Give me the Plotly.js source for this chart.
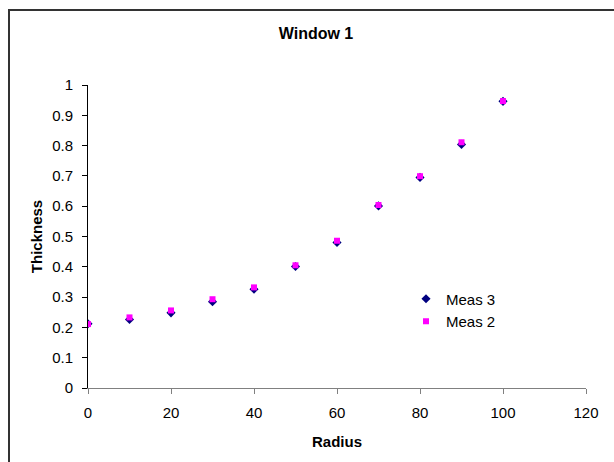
<!DOCTYPE html>
<html>
<head>
<meta charset="utf-8">
<script src="https://cdn.plot.ly/plotly-3.0.1.min.js"></script>
<style>
  html, body { margin: 0; padding: 0; background: #fff; }
  #chart { width: 614px; height: 462px; }
</style>
</head>
<body>
<div id="chart"></div>
<script>
// Radius positions and thickness measurements
const radius = [0, 10, 20, 30, 40, 50, 60, 70, 80, 90, 100];
const meas3 = [0.212, 0.226, 0.248, 0.285, 0.326, 0.401, 0.480, 0.601, 0.695, 0.804, 0.946];
const meas2 = [0.211, 0.233, 0.256, 0.293, 0.332, 0.405, 0.486, 0.604, 0.699, 0.811, 0.947];
const xTicks = [0, 20, 40, 60, 80, 100, 120];
const yTicks = [0, 0.1, 0.2, 0.3, 0.4, 0.5, 0.6, 0.7, 0.8, 0.9, 1];

const font = 'Arial, "Liberation Sans", sans-serif';

const traces = [
  {
    x: radius, y: meas3, name: 'Meas 3', type: 'scatter', mode: 'markers',
    marker: { symbol: 'diamond', size: 7, color: '#000080' }
  },
  {
    x: radius, y: meas2, name: 'Meas 2', type: 'scatter', mode: 'markers',
    marker: { symbol: 'square', size: 6, color: '#FF00FF' }
  }
];

const layout = {
  width: 614, height: 462,
  margin: { l: 88, r: 28, t: 85, b: 74 },
  paper_bgcolor: '#fff', plot_bgcolor: '#fff',
  font: { family: font, size: 15, color: '#000' },
  title: {
    text: '<b>Window 1</b>',
    font: { family: font, size: 16, color: '#000' },
    xref: 'container', yref: 'container',
    x: 316 / 614, y: 1 - 33 / 462, xanchor: 'center', yanchor: 'middle'
  },
  xaxis: {
    range: [0, 120], tickvals: xTicks, ticktext: xTicks.map(String),
    showgrid: false, zeroline: false,
    showline: true, linecolor: '#808080', linewidth: 1,
    ticks: 'outside', ticklen: 5, tickcolor: '#808080',
    ticklabelstandoff: 6,
    tickfont: { family: font, size: 15 },
    title: { text: '<b>Radius</b>', font: { family: font, size: 15 }, standoff: 16 }
  },
  yaxis: {
    range: [0, 1], tickvals: yTicks, ticktext: yTicks.map(String),
    showgrid: false, zeroline: false,
    showline: true, linecolor: '#000', linewidth: 1,
    ticks: 'outside', ticklen: 5, tickcolor: '#000',
    ticklabelstandoff: 6,
    tickfont: { family: font, size: 15 },
    title: { text: '<b>Thickness</b>', font: { family: font, size: 15 }, standoff: 5 }
  },
  legend: {
    x: (406 - 88) / 498, y: (388 - 310) / 303, xanchor: 'left', yanchor: 'middle',
    bgcolor: 'rgba(0,0,0,0)', borderwidth: 0,
    font: { family: font, size: 15 }, tracegroupgap: 0
  },
  shapes: [{
    type: 'rect', xref: 'paper', yref: 'paper',
    x0: (9 - 88) / 498, x1: 1.2, y0: -0.4, y1: (388 - 10) / 303,
    line: { color: '#333', width: 2 }, fillcolor: 'rgba(0,0,0,0)', layer: 'below'
  }],
  showlegend: true
};

Plotly.newPlot('chart', traces, layout, { displayModeBar: false, staticPlot: true });
</script>
</body>
</html>
